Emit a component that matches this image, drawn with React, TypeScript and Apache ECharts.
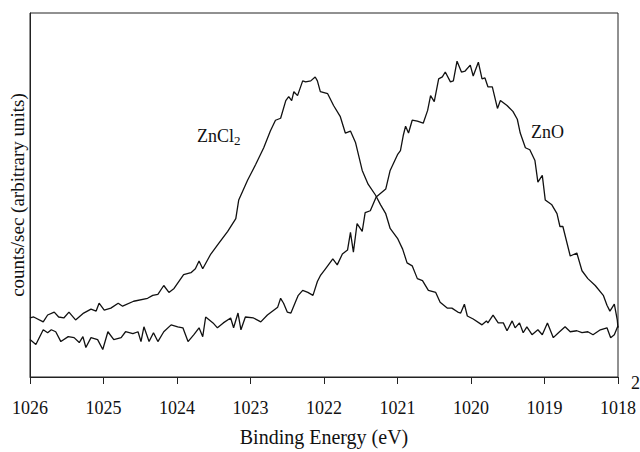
import React, { useEffect, useRef } from "react";
import * as echarts from "echarts";

// Binding energy (eV) and intensity (arbitrary units)
const zncl2Energy = [
  1026.0, 1025.95, 1025.82, 1025.76, 1025.67, 1025.61, 1025.54, 1025.47, 1025.38, 1025.27,
  1025.17, 1025.1, 1025.06, 1024.99, 1024.9, 1024.8, 1024.74, 1024.59, 1024.4, 1024.33,
  1024.26, 1024.18, 1024.11, 1024.04, 1023.91, 1023.81, 1023.75, 1023.7, 1023.65, 1023.54,
  1023.43, 1023.31, 1023.2, 1023.16, 1023.04, 1022.93, 1022.82, 1022.73, 1022.66, 1022.59,
  1022.52, 1022.48, 1022.44, 1022.41, 1022.36, 1022.29, 1022.25, 1022.18, 1022.12, 1022.09,
  1022.05, 1021.95, 1021.87, 1021.78, 1021.71, 1021.64, 1021.57, 1021.48, 1021.4, 1021.3,
  1021.23, 1021.16, 1021.12, 1021.1, 1021.0, 1020.93, 1020.87, 1020.8, 1020.73, 1020.66,
  1020.58, 1020.48, 1020.42, 1020.32, 1020.26, 1020.18, 1020.14, 1020.09, 1020.05, 1019.97,
  1019.85, 1019.79, 1019.77, 1019.7, 1019.63, 1019.56, 1019.51, 1019.44, 1019.4, 1019.34,
  1019.29, 1019.24, 1019.17, 1019.09, 1019.03, 1018.96, 1018.88, 1018.81, 1018.72, 1018.65,
  1018.56, 1018.49, 1018.41, 1018.34, 1018.24, 1018.15, 1018.1, 1018.05, 1018.0,
];
const zncl2Counts = [
  60, 61, 56, 63, 66, 61, 60, 66, 58, 65,
  69, 67, 75, 68, 70, 75, 72, 77, 80, 83,
  84, 93, 86, 90, 104, 106, 110, 118, 110, 125,
  136, 148, 161, 180, 200, 216, 233, 250, 261, 263,
  281, 285, 281, 290, 286, 301, 300, 301, 305, 301,
  290, 288, 276, 265, 248, 250, 238, 210, 196, 185,
  175, 166, 156, 151, 141, 130, 116, 113, 100, 98,
  88, 86, 76, 70, 70, 66, 65, 74, 62, 59,
  53, 57, 55, 63, 55, 55, 47, 57, 50, 55,
  45, 51, 43, 48, 43, 55, 40, 45, 51, 46,
  47, 45, 46, 43, 48, 50, 40, 43, 52,
];

const znoEnergy = [
  1026.0, 1025.92, 1025.82, 1025.76, 1025.71, 1025.65, 1025.58, 1025.48, 1025.4, 1025.33,
  1025.28, 1025.24, 1025.17, 1025.08, 1025.01, 1024.94, 1024.86, 1024.76, 1024.7, 1024.6,
  1024.53, 1024.49, 1024.45, 1024.38, 1024.32, 1024.26, 1024.18, 1024.08, 1023.99, 1023.92,
  1023.85, 1023.77, 1023.7, 1023.65, 1023.61, 1023.51, 1023.45, 1023.37, 1023.27, 1023.23,
  1023.17, 1023.13, 1023.07, 1022.96, 1022.86, 1022.77, 1022.63, 1022.59, 1022.55, 1022.5,
  1022.45, 1022.39, 1022.35, 1022.29, 1022.22, 1022.15, 1022.09, 1022.05, 1021.98, 1021.88,
  1021.82, 1021.75, 1021.68, 1021.64, 1021.6, 1021.55, 1021.48, 1021.44, 1021.37, 1021.29,
  1021.16, 1021.1, 1021.0, 1020.96, 1020.92, 1020.89, 1020.85, 1020.8, 1020.73, 1020.65,
  1020.59, 1020.55, 1020.5, 1020.44, 1020.39, 1020.35, 1020.28, 1020.24, 1020.19, 1020.13,
  1020.08, 1020.01, 1019.97, 1019.9, 1019.85, 1019.81, 1019.77, 1019.71, 1019.64, 1019.6,
  1019.51, 1019.43, 1019.37, 1019.33, 1019.26, 1019.2, 1019.13, 1019.09, 1019.03, 1018.99,
  1018.9, 1018.83, 1018.79, 1018.75, 1018.65, 1018.56, 1018.49, 1018.41, 1018.31, 1018.2,
  1018.15, 1018.11, 1018.05, 1018.01, 1018.0,
];
const znoCounts = [
  38, 33, 48, 45, 48, 46, 36, 41, 40, 35,
  41, 30, 40, 38, 28, 46, 38, 40, 46, 44,
  46, 36, 51, 36, 45, 36, 46, 53, 51, 50,
  36, 43, 50, 41, 61, 55, 50, 55, 60, 50,
  65, 48, 61, 60, 56, 63, 71, 80, 75, 66,
  65, 76, 83, 88, 86, 83, 97, 103, 110, 120,
  114, 125, 129, 147, 127, 156, 148, 167, 169, 183,
  191, 210, 226, 230, 246, 255, 248, 261, 260, 258,
  271, 286, 280, 303, 305, 310, 300, 301, 321, 310,
  311, 317, 306, 320, 303, 304, 295, 295, 273, 281,
  276, 270, 262, 248, 233, 231, 220, 198, 205, 180,
  175, 166, 153, 153, 123, 126, 108, 100, 93, 83,
  73, 67, 74, 58, 50,
];

const xTickMin = 1018;
const xTickMax = 1026;

const serif = "'Liberation Serif', 'Times New Roman', serif";

export default function App() {
  const ref = useRef<HTMLDivElement>(null);
  useEffect(() => {
    document.body.style.margin = "0";
    if (!ref.current) return;
    const chart = echarts.init(ref.current, undefined, { renderer: "svg" });
    const zncl2 = zncl2Energy.map((e, i) => [e, zncl2Counts[i]]);
    const zno = znoEnergy.map((e, i) => [e, znoCounts[i]]);
    chart.setOption({
      animation: false,
      backgroundColor: "#ffffff",
      grid: {
        left: 29,
        right: 22,
        top: 13,
        bottom: 69,
        show: true,
        borderColor: "#222",
        borderWidth: 1,
        backgroundColor: "transparent",
      },
      xAxis: {
        type: "value",
        min: xTickMin,
        max: xTickMax,
        interval: 1,
        inverse: true,
        axisLine: { show: true, lineStyle: { color: "#222", width: 1 } },
        axisTick: { show: true, inside: false, length: 7, lineStyle: { color: "#222" } },
        splitLine: { show: false },
        axisLabel: {
          margin: 22,
          fontFamily: serif,
          fontSize: 18,
          color: "#111",
          formatter: (v: number) => String(v),
        },
        name: "Binding Energy (eV)",
        nameLocation: "middle",
        nameGap: 50,
        nameTextStyle: { fontFamily: serif, fontSize: 20, color: "#111" },
      },
      yAxis: {
        type: "value",
        min: 0,
        max: 370,
        axisLine: { show: true, lineStyle: { color: "#222", width: 1 } },
        axisTick: { show: false },
        axisLabel: { show: false },
        splitLine: { show: false },
        name: "counts/sec (arbitrary units)",
        nameLocation: "middle",
        nameGap: 3,
        nameTextStyle: { fontFamily: serif, fontSize: 19, color: "#111" },
      },
      series: [
        {
          name: "ZnCl2",
          type: "line",
          data: zncl2,
          showSymbol: false,
          lineStyle: { color: "#111", width: 1.3 },
          smooth: false,
        },
        {
          name: "ZnO",
          type: "line",
          data: zno,
          showSymbol: false,
          lineStyle: { color: "#111", width: 1.3 },
          smooth: false,
        },
      ],
      graphic: [
        {
          type: "text",
          left: 197,
          top: 127,
          style: {
            text: "ZnCl{sub|2}",
            rich: {
              sub: { fontFamily: serif, fontSize: 13, verticalAlign: "bottom", padding: [9, 0, 0, 0] },
            },
            font: `18px ${serif}`,
            fill: "#111",
          },
        },
        {
          type: "text",
          left: 531,
          top: 123,
          style: { text: "ZnO", font: `18px ${serif}`, fill: "#111" },
        },
        {
          type: "text",
          left: 631,
          top: 374,
          style: { text: "2", font: `18px ${serif}`, fill: "#111" },
        },
      ],
    });
    return () => chart.dispose();
  }, []);
  return <div ref={ref} style={{ width: 640, height: 452 }} />;
}
